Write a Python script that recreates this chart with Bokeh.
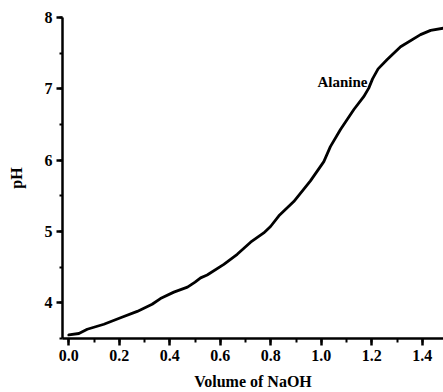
from bokeh.plotting import figure
from bokeh.models import Range1d, Label, SingleIntervalTicker, PrintfTickFormatter
from bokeh.embed import file_html
from bokeh.resources import INLINE

volume = [0.0, 0.04, 0.073, 0.139, 0.205, 0.271, 0.33, 0.363, 0.416, 0.47, 0.50,
          0.522, 0.548, 0.614, 0.667, 0.72, 0.772, 0.799, 0.832, 0.891, 0.957, 1.01,
          1.036, 1.076, 1.129, 1.168, 1.188, 1.203, 1.225, 1.261, 1.314, 1.393, 1.433, 1.484]
ph = [3.55, 3.57, 3.63, 3.70, 3.79, 3.88, 3.98, 4.06, 4.15, 4.22, 4.29,
      4.35, 4.39, 4.54, 4.68, 4.85, 4.98, 5.07, 5.22, 5.42, 5.71, 5.98,
      6.19, 6.43, 6.71, 6.89, 7.01, 7.14, 7.28, 7.41, 7.59, 7.76, 7.82, 7.85]
series_label = "Alanine"
x_title = "Volume of NaOH"
y_title = "pH"

FONT = "Liberation Serif"

p = figure(width=443, height=392, output_backend="svg", toolbar_location=None,
           x_range=Range1d(-0.025, 1.484), y_range=Range1d(3.5, 8.0),
           min_border_left=62, min_border_right=0, min_border_top=17, min_border_bottom=53)
p.outline_line_color = None
p.xgrid.visible = False
p.ygrid.visible = False
p.background_fill_color = "white"
p.border_fill_color = "white"

p.line(volume, ph, line_color="black", line_width=2.8, line_join="round", line_cap="round")

p.add_layout(Label(x=0.985, y=6.99, text=series_label, text_font=FONT, text_font_style="bold",
                   text_font_size="15px", text_color="black"))

for ax in (p.xaxis[0], p.yaxis[0]):
    ax.axis_line_width = 2.5
    ax.axis_line_color = "black"
    ax.major_tick_line_width = 2.5
    ax.minor_tick_line_width = 2.0
    ax.major_tick_in = 0
    ax.minor_tick_in = 0
    ax.major_label_text_font = FONT
    ax.major_label_text_font_style = "bold"
    ax.major_label_text_font_size = "16px"
    ax.major_label_text_color = "black"
    ax.axis_label_text_font = FONT
    ax.axis_label_text_font_style = "bold"
    ax.axis_label_text_font_size = "16px"
    ax.axis_label_text_color = "black"

p.xaxis.ticker = SingleIntervalTicker(interval=0.2, num_minor_ticks=2)
p.xaxis.formatter = PrintfTickFormatter(format="%.1f")
p.xaxis.major_tick_out = 7
p.xaxis.minor_tick_out = 4
p.xaxis.major_label_standoff = 4
p.xaxis.axis_label = x_title
p.xaxis.axis_label_standoff = 9

p.yaxis.ticker = SingleIntervalTicker(interval=1, num_minor_ticks=2)
p.yaxis.major_tick_out = 6
p.yaxis.minor_tick_out = 3
p.yaxis.major_label_standoff = 4
p.yaxis.axis_label = y_title
p.yaxis.axis_label_standoff = 17

open("out.html", "w").write(file_html(p, INLINE))
